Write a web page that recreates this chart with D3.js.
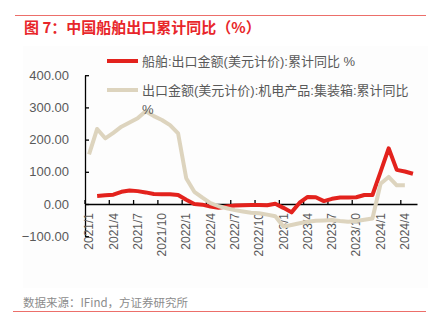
<!DOCTYPE html>
<html>
<head>
<meta charset="utf-8">
<script src="https://cdn.jsdelivr.net/npm/d3@7"></script>
<style>
  html, body { margin: 0; padding: 0; background: #ffffff; }
  svg { display: block; }
</style>
</head>
<body>
<svg id="chart" width="438" height="336"></svg>
<script>
// ---- data ----
const months = [
  "2021/1","2021/2","2021/3","2021/4","2021/5","2021/6","2021/7","2021/8","2021/9","2021/10","2021/11","2021/12",
  "2022/1","2022/2","2022/3","2022/4","2022/5","2022/6","2022/7","2022/8","2022/9","2022/10","2022/11","2022/12",
  "2023/1","2023/2","2023/3","2023/4","2023/5","2023/6","2023/7","2023/8","2023/9","2023/10","2023/11","2023/12",
  "2024/1","2024/2","2024/3","2024/4","2024/5"
];
const shipValues = [
  null, 25, 27, 29, 38, 42, 40, 36, 31, 30, 30, 28,
  13, 0, -2, -8, -12, -8, -5, -4, -3, -3, -4, 1,
  -12, -26, 4, 22, 21, 9, 16, 20, 20, 21, 28, 28,
  100, 173, 106, 101, 94
];
const containerValues = [
  154, 233, 204, 221, 240, 253, 266, 288, 273, 261, 245, 219,
  80, 38, 20, 3, -7, -13, -19, -23, -27, -29, -33, -38,
  -70, -65, -60, -55, -52, -51, -50, -53, -55, -53, -49, -45,
  63, 84, 58, 58, null
];
const yTicks = [-100, 0, 100, 200, 300, 400];
const seriesNames = ["船舶:出口金额(美元计价):累计同比 %", "出口金额(美元计价):机电产品:集装箱:累计同比"];
const seriesNameWrap = "%";
const titleText = "图 7：中国船舶出口累计同比（%）";
const sourceText = "数据来源：IFind，方证券研究所";

// ---- drawing ----
const svg = d3.select("#chart");
const RED = "#e3221d";
const BEIGE = "#ddd4be";
const FRAME = "#ec6f6a";
const TEXT = "#595959";
const latin = "'Liberation Sans', Arial, 'Noto Sans CJK SC', sans-serif";
const cjk = "'Noto Sans CJK SC', 'Liberation Sans', sans-serif";

// frame lines
svg.append("line").attr("x1", 15).attr("x2", 426).attr("y1", 15.5).attr("y2", 15.5)
  .attr("stroke", FRAME).attr("stroke-width", 1);
svg.append("line").attr("x1", 13).attr("x2", 426).attr("y1", 311.5).attr("y2", 311.5)
  .attr("stroke", FRAME).attr("stroke-width", 1);

// faint panel
svg.append("rect").attr("x", 23).attr("y", 46).attr("width", 405).attr("height", 242)
  .attr("fill", "#fdfdfd");

// title
svg.append("text").attr("x", 24).attr("y", 33)
  .attr("font-family", cjk).attr("font-size", 15).attr("font-weight", "bold")
  .attr("fill", "#e8262a").text(titleText);

// source
svg.append("text").attr("x", 23).attr("y", 307)
  .attr("font-family", cjk).attr("font-size", 11.5)
  .attr("fill", "#8c8c8c").text(sourceText);

const x = d3.scaleBand().domain(months).range([85, 417]).paddingInner(0).paddingOuter(0);
const y = d3.scaleLinear().domain([-100, 400]).range([236.2, 75.2]);
const cx = m => x(m) + x.bandwidth() / 2;

// y axis
const yAxis = d3.axisLeft(y).tickValues(yTicks).tickFormat(d3.format(".2f"))
  .tickSizeInner(-4).tickSizeOuter(0).tickPadding(16);
const gy = svg.append("g").attr("transform", "translate(85,0)").call(yAxis);
gy.select(".domain").attr("stroke", "#000").attr("stroke-width", 1.3);
gy.selectAll(".tick line").attr("stroke", "#000").attr("stroke-width", 1.3);
gy.selectAll(".tick text").attr("fill", TEXT).attr("font-family", latin).attr("font-size", 13);

// x axis (at zero)
const xTickVals = months.filter((m, i) => i % 3 === 0);
const xAxis = d3.axisBottom(x).tickValues(xTickVals).tickSizeInner(-4).tickSizeOuter(0);
const gx = svg.append("g").attr("transform", `translate(0,${y(0)})`).call(xAxis);
gx.select(".domain").attr("stroke", "#000").attr("stroke-width", 1.5);
gx.selectAll(".tick line").attr("stroke", "#000").attr("stroke-width", 1.3)
  .attr("x1", -x.bandwidth() / 2).attr("x2", -x.bandwidth() / 2);
gx.selectAll(".tick text")
  .attr("fill", TEXT).attr("font-family", latin).attr("font-size", 12)
  .attr("transform", "rotate(-90)")
  .attr("text-anchor", "end")
  .attr("x", -9).attr("y", 0).attr("dy", "0.35em");

// lines
const line = d3.line()
  .defined(d => d.v !== null)
  .x(d => cx(d.m))
  .y(d => y(d.v));
const shipData = months.map((m, i) => ({ m, v: shipValues[i] }));
const contData = months.map((m, i) => ({ m, v: containerValues[i] }));

svg.append("path").datum(shipData).attr("d", line)
  .attr("fill", "none").attr("stroke", RED).attr("stroke-width", 4)
  .attr("stroke-linejoin", "round");
svg.append("path").datum(contData).attr("d", line)
  .attr("fill", "none").attr("stroke", BEIGE).attr("stroke-width", 4)
  .attr("stroke-linejoin", "round");

// legend
const legend = svg.append("g");
legend.append("line").attr("x1", 107).attr("x2", 138).attr("y1", 61).attr("y2", 61)
  .attr("stroke", RED).attr("stroke-width", 4);
legend.append("text").attr("x", 142).attr("y", 61).attr("dy", "0.35em")
  .attr("font-family", latin).attr("font-size", 13).attr("fill", TEXT).text(seriesNames[0]);
legend.append("line").attr("x1", 107).attr("x2", 138).attr("y1", 90).attr("y2", 90)
  .attr("stroke", BEIGE).attr("stroke-width", 4);
legend.append("text").attr("x", 142).attr("y", 90).attr("dy", "0.35em")
  .attr("font-family", latin).attr("font-size", 13).attr("fill", TEXT).text(seriesNames[1]);
legend.append("text").attr("x", 142).attr("y", 109).attr("dy", "0.35em")
  .attr("font-family", latin).attr("font-size", 13).attr("fill", TEXT).text(seriesNameWrap);
</script>
</body>
</html>
